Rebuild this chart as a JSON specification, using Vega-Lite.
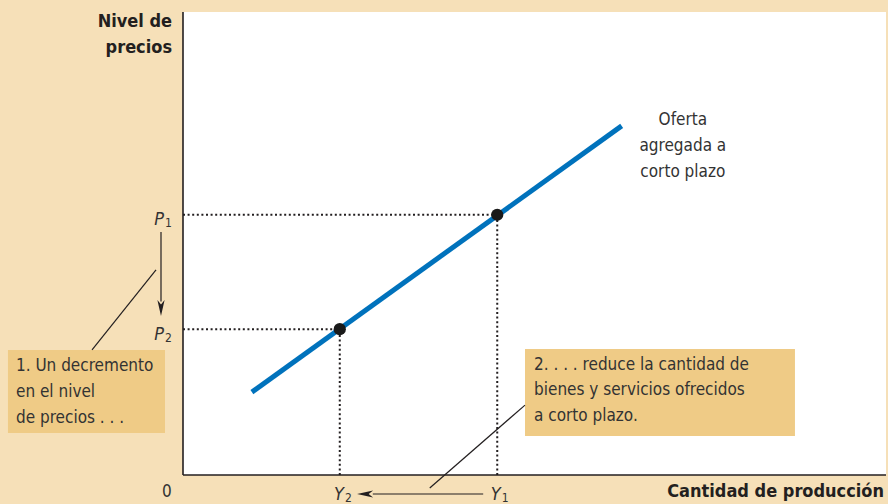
{
  "$schema": "https://vega.github.io/schema/vega-lite/v6.json",
  "width": 703,
  "height": 463,
  "autosize": {"type": "none"},
  "padding": {"left": 183, "top": 12, "right": 2, "bottom": 29},
  "background": "#f6e0b8",
  "view": {"fill": "white", "stroke": null},
  "config": {"font": "Liberation Sans Narrow, DejaVu Sans Condensed, sans-serif"},
  "datasets": {
    "axes": [
      {"x": 0, "y": 0, "x2": 0, "y2": 100},
      {"x": 0, "y": 0, "x2": 100, "y2": 0}
    ],
    "guides": [
      {"x": 0, "y": 56.2, "x2": 44.7, "y2": 56.2},
      {"x": 0, "y": 31.5, "x2": 22.3, "y2": 31.5},
      {"x": 44.7, "y": 0, "x2": 44.7, "y2": 56.2},
      {"x": 22.3, "y": 0, "x2": 22.3, "y2": 31.5}
    ],
    "supply": [
      {"x": 9.8, "y": 17.9},
      {"x": 62.4, "y": 75.4}
    ],
    "points": [
      {"x": 44.7, "y": 56.2},
      {"x": 22.3, "y": 31.5}
    ],
    "boxes": [
      {"x": -24.9, "y": 27.0, "x2": -2.56, "y2": 9.07},
      {"x": 48.65, "y": 27.2, "x2": 87.05, "y2": 8.42}
    ],
    "leaders": [
      {"x": -12.94, "y": 27.0, "x2": -3.84, "y2": 44.3},
      {"x": 48.65, "y": 15.1, "x2": 35.1, "y2": -2.8},
      {"x": -3.13, "y": 52.5, "x2": -3.13, "y2": 37.5},
      {"x": 42.7, "y": -4.1, "x2": 27.0, "y2": -4.1}
    ],
    "heads": [
      {"x": -3.13, "y": 36.07, "dir": "down"},
      {"x": 25.9, "y": -4.1, "dir": "left"}
    ],
    "titles": [
      {"text": "Nivel de", "x": -1.56, "y": 97.8},
      {"text": "precios", "x": -1.56, "y": 92.2},
      {"text": "Cantidad de producción", "x": 99.72, "y": -3.7}
    ],
    "body": [
      {"text": "1. Un decremento", "x": -23.76, "y": 23.5},
      {"text": "en el nivel", "x": -23.76, "y": 17.9},
      {"text": "de precios . . .", "x": -23.76, "y": 12.3},
      {"text": "2. . . . reduce la cantidad de", "x": 49.93, "y": 23.76},
      {"text": "bienes y servicios ofrecidos", "x": 49.93, "y": 18.36},
      {"text": "a corto plazo.", "x": 49.93, "y": 12.74}
    ],
    "centered": [
      {"text": "Oferta", "x": 71.1, "y": 76.6},
      {"text": "agregada a", "x": 71.1, "y": 71.0},
      {"text": "corto plazo", "x": 71.1, "y": 65.4},
      {"text": "0", "x": -2.28, "y": -3.67}
    ],
    "letters": [
      {"text": "P", "sub": "1", "x": -2.7, "y": 54.0},
      {"text": "P", "sub": "2", "x": -2.7, "y": 29.16},
      {"text": "Y", "sub": "2", "x": 22.9, "y": -5.4},
      {"text": "Y", "sub": "1", "x": 45.2, "y": -5.4}
    ]
  },
  "layer": [
    {
      "data": {"name": "boxes"},
      "mark": {"type": "rect", "fill": "#efcb86", "clip": false},
      "encoding": {
        "x": {"field": "x", "type": "quantitative", "scale": {"domain": [0, 100], "nice": false, "zero": false}, "axis": null},
        "x2": {"field": "x2"},
        "y": {"field": "y", "type": "quantitative", "scale": {"domain": [0, 100], "nice": false, "zero": false}, "axis": null},
        "y2": {"field": "y2"}
      }
    },
    {
      "data": {"name": "guides"},
      "mark": {"type": "rule", "color": "#231f20", "strokeWidth": 2, "strokeDash": [2, 2.6]},
      "encoding": {
        "x": {"field": "x", "type": "quantitative"},
        "x2": {"field": "x2"},
        "y": {"field": "y", "type": "quantitative"},
        "y2": {"field": "y2"}
      }
    },
    {
      "data": {"name": "axes"},
      "mark": {"type": "rule", "color": "#231f20", "strokeWidth": 1.6},
      "encoding": {
        "x": {"field": "x", "type": "quantitative"},
        "x2": {"field": "x2"},
        "y": {"field": "y", "type": "quantitative"},
        "y2": {"field": "y2"}
      }
    },
    {
      "data": {"name": "leaders"},
      "mark": {"type": "rule", "color": "#231f20", "strokeWidth": 1.2, "clip": false},
      "encoding": {
        "x": {"field": "x", "type": "quantitative"},
        "x2": {"field": "x2"},
        "y": {"field": "y", "type": "quantitative"},
        "y2": {"field": "y2"}
      }
    },
    {
      "data": {"name": "heads"},
      "mark": {"type": "point", "filled": true, "color": "#231f20", "opacity": 1, "size": 256, "clip": false},
      "encoding": {
        "x": {"field": "x", "type": "quantitative"},
        "y": {"field": "y", "type": "quantitative"},
        "shape": {"field": "dir", "type": "nominal", "legend": null,
          "scale": {"domain": ["down", "left"], "range": ["M0,1L-0.45,-1L0,-0.45L0.45,-1Z", "M-1,0L1,-0.45L0.45,0L1,0.45Z"]}}
      }
    },
    {
      "data": {"name": "supply"},
      "mark": {"type": "line", "color": "#0072bc", "strokeWidth": 5, "strokeCap": "butt"},
      "encoding": {
        "x": {"field": "x", "type": "quantitative"},
        "y": {"field": "y", "type": "quantitative"}
      }
    },
    {
      "data": {"name": "points"},
      "mark": {"type": "circle", "color": "#1a1a1a", "opacity": 1, "size": 150},
      "encoding": {
        "x": {"field": "x", "type": "quantitative"},
        "y": {"field": "y", "type": "quantitative"}
      }
    },
    {
      "data": {"name": "titles"},
      "mark": {"type": "text", "align": "right", "baseline": "middle", "fontSize": 18, "fontWeight": "bold", "color": "#231f20", "clip": false},
      "encoding": {
        "x": {"field": "x", "type": "quantitative"},
        "y": {"field": "y", "type": "quantitative"},
        "text": {"field": "text"}
      }
    },
    {
      "data": {"name": "body"},
      "mark": {"type": "text", "align": "left", "baseline": "middle", "fontSize": 17, "color": "#333333", "clip": false},
      "encoding": {
        "x": {"field": "x", "type": "quantitative"},
        "y": {"field": "y", "type": "quantitative"},
        "text": {"field": "text"}
      }
    },
    {
      "data": {"name": "centered"},
      "mark": {"type": "text", "align": "center", "baseline": "middle", "fontSize": 17, "color": "#333333", "clip": false},
      "encoding": {
        "x": {"field": "x", "type": "quantitative"},
        "y": {"field": "y", "type": "quantitative"},
        "text": {"field": "text"}
      }
    },
    {
      "data": {"name": "letters"},
      "mark": {"type": "text", "align": "right", "baseline": "alphabetic", "fontSize": 18, "fontStyle": "italic", "color": "#333333", "clip": false},
      "encoding": {
        "x": {"field": "x", "type": "quantitative"},
        "y": {"field": "y", "type": "quantitative"},
        "text": {"field": "text"}
      }
    },
    {
      "data": {"name": "letters"},
      "mark": {"type": "text", "align": "left", "baseline": "alphabetic", "fontSize": 12, "dx": 1, "dy": 2, "color": "#333333", "clip": false},
      "encoding": {
        "x": {"field": "x", "type": "quantitative"},
        "y": {"field": "y", "type": "quantitative"},
        "text": {"field": "sub"}
      }
    }
  ]
}
